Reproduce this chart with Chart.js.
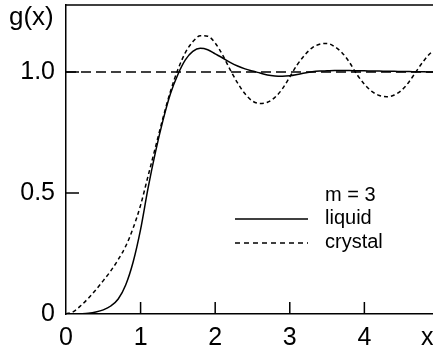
<!DOCTYPE html>
<html>
<head>
<meta charset="utf-8">
<script src="https://cdn.jsdelivr.net/npm/chart.js@4"></script>
<style>
  html, body { margin: 0; padding: 0; background: #fff; }
  #wrap { width: 433px; height: 350px; }
</style>
</head>
<body>
<div id="wrap"><canvas id="gChart" width="433" height="350"></canvas></div>
<script>
// radial distribution g(x)
const xs = [0, 0.1, 0.2, 0.3, 0.4, 0.5, 0.6, 0.7, 0.8, 0.9,
  1.0, 1.1, 1.2, 1.3, 1.4, 1.5, 1.6, 1.7, 1.8, 1.9,
  2.0, 2.1, 2.2, 2.3, 2.4, 2.5, 2.6, 2.7, 2.8, 2.9,
  3.0, 3.1, 3.2, 3.3, 3.4, 3.5, 3.6, 3.7, 3.8, 3.9,
  4.0, 4.1, 4.2, 4.3, 4.4, 4.5, 4.6, 4.7, 4.8, 4.9, 5.0];

const liquid = [0, 0, 0.001, 0.003, 0.008, 0.017, 0.033, 0.062, 0.12, 0.215,
  0.35, 0.52, 0.67, 0.80, 0.91, 0.99, 1.05, 1.085, 1.098, 1.092,
  1.075, 1.058, 1.04, 1.025, 1.013, 1.004, 0.996, 0.988, 0.984, 0.983,
  0.985, 0.99, 0.996, 1.001, 1.004, 1.005, 1.006, 1.006, 1.006, 1.005,
  1.005, 1.004, 1.004, 1.003, 1.003, 1.002, 1.002, 1.001, 1.001, 1.0, 1.0];

const crystal = [0, 0.01, 0.035, 0.065, 0.10, 0.138, 0.178, 0.225, 0.28, 0.355,
  0.45, 0.57, 0.69, 0.81, 0.92, 1.01, 1.08, 1.125, 1.15, 1.148,
  1.12, 1.07, 1.01, 0.955, 0.91, 0.88, 0.87, 0.875, 0.895, 0.93,
  0.98, 1.03, 1.07, 1.10, 1.115, 1.118, 1.105, 1.08, 1.04, 0.99,
  0.95, 0.92, 0.903, 0.898, 0.905, 0.925, 0.96, 1.005, 1.048, 1.082, 1.10];

const refLevel = 1.0;

const xTicks = [0, 1, 2, 3, 4];
const xTickLabels = ["0", "1", "2", "3", "4"];
const yTicks = [0, 0.5, 1.0];
const yTickLabels = ["0", "0.5", "1.0"];

const legendTitle = "m = 3";
const seriesNames = ["liquid", "crystal"];

const FONT = "'Liberation Sans', Arial, Helvetica, sans-serif";

function pts(ys) {
  return xs.map((x, i) => ({ x: x, y: ys[i] }));
}

// extra drawing: top frame, inward ticks, axis names, legend
const decor = {
  id: "decor",
  afterDraw(chart) {
    const ctx = chart.ctx;
    const a = chart.chartArea;
    const sx = chart.scales.x;
    const sy = chart.scales.y;
    ctx.save();
    ctx.strokeStyle = "#000";
    ctx.lineWidth = 1.5;
    ctx.beginPath();
    ctx.moveTo(a.left, a.top);
    ctx.lineTo(a.right, a.top);
    xTicks.forEach((v) => {
      if (v === 0) return;
      const px = sx.getPixelForValue(v);
      ctx.moveTo(px, a.bottom);
      ctx.lineTo(px, a.bottom - 12);
    });
    yTicks.forEach((v) => {
      if (v === 0) return;
      const py = sy.getPixelForValue(v);
      ctx.moveTo(a.left, py);
      ctx.lineTo(a.left + 13, py);
    });
    ctx.stroke();

    ctx.fillStyle = "#000";
    ctx.font = "26px " + FONT;
    ctx.textBaseline = "middle";
    ctx.textAlign = "left";
    ctx.fillText("g(x)", 9, 18);
    ctx.font = "25px " + FONT;
    ctx.fillText("x", 421, 338);

    // legend
    ctx.font = "20px " + FONT;
    ctx.fillText(legendTitle, 325, 195);
    const rows = [218, 242];
    chart.data.datasets.slice(1).forEach((ds, i) => {
      ctx.beginPath();
      ctx.setLineDash(i === 0 ? [] : [5, 4]);
      ctx.lineWidth = 1.5;
      ctx.moveTo(235, rows[i] + 1);
      ctx.lineTo(308, rows[i] + 1);
      ctx.stroke();
      ctx.setLineDash([]);
      ctx.fillText(seriesNames[i], 325, rows[i]);
    });
    ctx.restore();
  },
};

const ctx = document.getElementById("gChart").getContext("2d");
new Chart(ctx, {
  type: "scatter",
  data: {
    datasets: [
      {
        label: "g = 1",
        data: [{ x: 0, y: refLevel }, { x: 5, y: refLevel }],
        showLine: true,
        borderColor: "#000",
        borderWidth: 1.5,
        borderDash: [10, 5],
        pointRadius: 0,
      },
      {
        label: seriesNames[0],
        data: pts(liquid),
        showLine: true,
        borderColor: "#000",
        borderWidth: 1.5,
        pointRadius: 0,
        cubicInterpolationMode: "monotone",
      },
      {
        label: seriesNames[1],
        data: pts(crystal),
        showLine: true,
        borderColor: "#000",
        borderWidth: 1.5,
        borderDash: [4, 3],
        pointRadius: 0,
        cubicInterpolationMode: "monotone",
      },
    ],
  },
  options: {
    responsive: false,
    animation: false,
    layout: { padding: { top: 5, right: 0, left: 0, bottom: 0 } },
    plugins: {
      legend: { display: false },
      tooltip: { enabled: false },
    },
    scales: {
      x: {
        type: "linear",
        min: 0,
        max: 4.92,
        grid: { display: false, drawTicks: false },
        border: { display: true, color: "#000", width: 1.5 },
        afterBuildTicks: (s) => { s.ticks = xTicks.map((v) => ({ value: v })); },
        afterFit: (s) => {
          s.height = 36;
          s.paddingLeft = 0;
          s.paddingRight = 0;
        },
        ticks: {
          color: "#000",
          padding: 9,
          maxRotation: 0,
          font: { size: 25, family: FONT },
          callback: (v) => xTickLabels[xTicks.indexOf(v)],
        },
      },
      y: {
        type: "linear",
        min: 0,
        max: 1.277,
        grid: { display: false, drawTicks: false },
        border: { display: true, color: "#000", width: 1.5 },
        afterBuildTicks: (s) => { s.ticks = yTicks.map((v) => ({ value: v })); },
        afterFit: (s) => {
          s.width = 66;
          s.paddingTop = 0;
          s.paddingBottom = 0;
        },
        ticks: {
          color: "#000",
          padding: 11,
          font: { size: 25, family: FONT },
          callback: (v) => yTickLabels[yTicks.indexOf(v)],
        },
      },
    },
  },
  plugins: [decor],
});
</script>
</body>
</html>
